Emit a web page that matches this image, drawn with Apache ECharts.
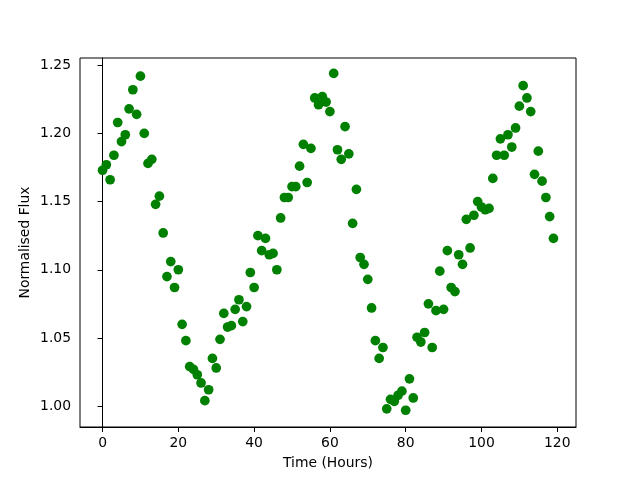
<!DOCTYPE html>
<html>
<head>
<meta charset="utf-8">
<script src="https://cdn.jsdelivr.net/npm/echarts@6/dist/echarts.min.js"></script>
<style>html,body{margin:0;padding:0;background:#fff;}#c{width:640px;height:480px;}</style>
</head>
<body>
<div id="c"></div>
<script>
// Time (hours): one observation per hour, 0..119
const timeHours = [];
for (let i = 0; i < 120; i++) timeHours.push(i);
const flux = [
  1.173, 1.177, 1.166, 1.184, 1.208, 1.194, 1.199, 1.218, 1.232, 1.214,
  1.242, 1.200, 1.178, 1.181, 1.148, 1.154, 1.127, 1.095, 1.106, 1.087,
  1.100, 1.060, 1.048, 1.029, 1.027, 1.023, 1.017, 1.004, 1.012, 1.035,
  1.028, 1.049, 1.068, 1.058, 1.059, 1.071, 1.078, 1.062, 1.073, 1.098,
  1.087, 1.125, 1.114, 1.123, 1.111, 1.112, 1.100, 1.138, 1.153, 1.153,
  1.161, 1.161, 1.176, 1.192, 1.164, 1.189, 1.226, 1.221, 1.227, 1.223,
  1.216, 1.244, 1.188, 1.181, 1.205, 1.185, 1.134, 1.159, 1.109, 1.104,
  1.093, 1.072, 1.048, 1.035, 1.043, 0.998, 1.005, 1.0035, 1.008, 1.011,
  0.997, 1.020, 1.006, 1.0505, 1.047, 1.054, 1.075, 1.043, 1.070, 1.099,
  1.071, 1.114, 1.087, 1.084, 1.111, 1.104, 1.137, 1.116, 1.140, 1.150,
  1.146, 1.144, 1.145, 1.167, 1.184, 1.196, 1.184, 1.199, 1.190, 1.204,
  1.220, 1.235, 1.226, 1.216, 1.170, 1.187, 1.165, 1.153, 1.139, 1.123
];
const xTicks = [0, 20, 40, 60, 80, 100, 120];
const yTicks = [1.00, 1.05, 1.10, 1.15, 1.20, 1.25];
const xLabel = 'Time (Hours)';
const yLabel = 'Normalised Flux';

const points = timeHours.map((t, i) => [t, flux[i]]);
const font = 'DejaVu Sans';
const chart = echarts.init(document.getElementById('c'), null, {renderer: 'canvas'});
chart.setOption({
  animation: false,
  backgroundColor: '#fff',
  grid: {left: 80, right: 64, top: 58, bottom: 53, show: true, borderColor: '#000', borderWidth: 1, containLabel: false},
  xAxis: {
    type: 'value', min: -5.95, max: 124.95,
    name: xLabel, nameLocation: 'middle', nameGap: 29, nameMoveOverlap: false,
    nameTextStyle: {fontFamily: font, fontSize: 13.9, color: '#000'},
    splitLine: {show: false},
    axisLine: {show: true, lineStyle: {color: '#000', width: 1}},
    axisTick: {show: true, length: 5, lineStyle: {color: '#000'}, customValues: xTicks},
    axisLabel: {fontFamily: font, fontSize: 13.9, color: '#000', margin: 9, customValues: xTicks, formatter: v => String(v)}
  },
  yAxis: {
    type: 'value', min: 0.9847, max: 1.2553,
    name: yLabel, nameLocation: 'middle', nameGap: 48, nameRotate: 90, nameMoveOverlap: false,
    nameTextStyle: {fontFamily: font, fontSize: 13.9, color: '#000'},
    splitLine: {show: false},
    axisLine: {show: true, lineStyle: {color: '#000', width: 1}},
    axisTick: {show: true, length: 5, lineStyle: {color: '#000'}, customValues: yTicks},
    axisLabel: {fontFamily: font, fontSize: 13.9, color: '#000', margin: 9, customValues: yTicks, formatter: v => v.toFixed(2)}
  },
  series: [{
    type: 'scatter',
    data: points,
    symbol: 'circle',
    symbolSize: 9.7,
    itemStyle: {color: '#008000', opacity: 1},
    emphasis: {disabled: true}
  }]
});
</script>
</body>
</html>
